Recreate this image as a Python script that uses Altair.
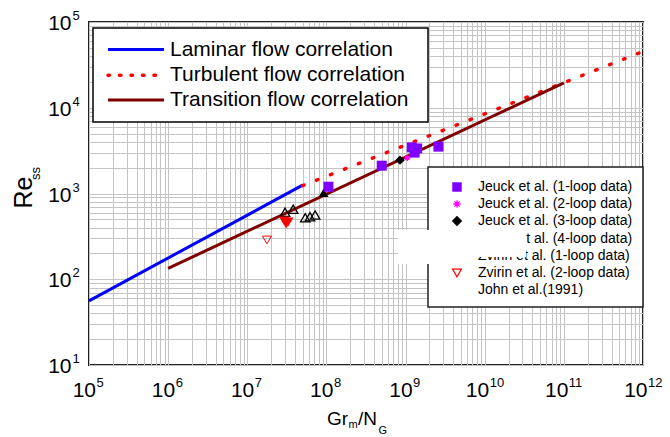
import altair as alt
import pandas as pd

# ---------------- data ----------------
laminar_x = [1e5, 5e7]
laminar_y = [56, 1250]
turbulent_x = [5e7, 1e12]
turbulent_y = [1235, 45300]
transition_x = [1e6, 1e11]
transition_y = [134, 19500]

jeuck1_x = [1.06e8, 5.0e8, 1.2e9, 1.4e9, 1.3e9, 2.6e9]
jeuck1_y = [1200, 2110, 3450, 3350, 3000, 3520]
jeuck2_x = [1.05e9]
jeuck2_y = [2600]
jeuck3_x = [8.5e8]
jeuck3_y = [2450]
jeuck4_x = [9.2e7]
jeuck4_y = [1020]
zvirin1_x = [3.0e7, 3.8e7, 5.4e7, 6.2e7, 7.2e7]
zvirin1_y = [604, 655, 522, 536, 561]
zvirin2f_x = [2.93e7, 3.29e7, 3.1e7]
zvirin2f_y = [478, 465, 441]
zvirin2o_x = [1.77e7]
zvirin2o_y = [287]

x_exponents = [5, 6, 7, 8, 9, 10, 11, 12]
y_exponents = [1, 2, 3, 4, 5]
tick_base = "10"
line_legend_labels = ["Laminar flow correlation", "Turbulent flow correlation",
                      "Transition flow correlation"]
point_legend_labels = ["Jeuck et al. (1-loop data)", "Jeuck et al. (2-loop data)",
                       "Jeuck et al. (3-loop data)", "Jeuck et al. (4-loop data)",
                       "Zvirin et al. (1-loop data)", "Zvirin et al. (2-loop data)",
                       "John et al.(1991)"]
x_title_parts = ["Gr", "m", "/N", "G"]
y_title_parts = ["Re", "ss"]

# ---------------- styling / layout ----------------
FONT = "Liberation Sans"
W, H = 554, 343
OX, OY = 89, 22  # plot origin in page pixels

BLUE = "#0000FF"
RED = "#FF0000"
DARKRED = "#800000"
PURPLE = "#8000FF"
MAGENTA = "#FF00FF"
GRID = "#c4c4c4"

x_ticks = [m * 10 ** e for e in range(5, 12) for m in range(1, 10)] + [10 ** 12]
y_ticks = [m * 10 ** e for e in range(1, 5) for m in range(1, 10)] + [10 ** 5]

xaxis = alt.Axis(values=x_ticks, grid=True, gridColor=GRID, gridWidth=1, ticks=False,
                 domain=False, labels=False, title=None)
yaxis = alt.Axis(values=y_ticks, grid=True, gridColor=GRID, gridWidth=1, ticks=False,
                 domain=False, labels=False, title=None)
xscale = alt.Scale(type="log", domain=[1e5, 1e12], nice=False)
yscale = alt.Scale(type="log", domain=[10, 1e5], nice=False)


def XE():
    return alt.X("x:Q", scale=xscale, axis=xaxis)


def YE():
    return alt.Y("y:Q", scale=yscale, axis=yaxis)


def df(xs, ys):
    return pd.DataFrame({"x": xs, "y": ys})


one = pd.DataFrame({"k": [0]})


def line(xs, ys, **kw):
    return alt.Chart(df(xs, ys)).mark_line(**kw).encode(x=XE(), y=YE())


def pts(xs, ys, **kw):
    return alt.Chart(df(xs, ys)).mark_point(opacity=1, **kw).encode(x=XE(), y=YE())


def text_at(txt, ax, ay, size, align="left", baseline="middle", angle=0):
    return alt.Chart(one).mark_text(text=txt, font=FONT, fontSize=size, color="black",
                                    align=align, baseline=baseline, angle=angle).encode(
        x=alt.value(ax - OX), y=alt.value(ay - OY))


def rect_at(x1, y1, x2, y2, **kw):
    return alt.Chart(one).mark_rect(**kw).encode(
        x=alt.value(x1 - OX), x2=alt.value(x2 - OX),
        y=alt.value(y1 - OY), y2=alt.value(y2 - OY))


def rule_at(x1, x2, y, **kw):
    return alt.Chart(one).mark_rule(**kw).encode(
        x=alt.value(x1 - OX), x2=alt.value(x2 - OX), y=alt.value(y - OY))


def sym_at(ax, ay, **kw):
    return alt.Chart(one).mark_point(opacity=1, **kw).encode(
        x=alt.value(ax - OX), y=alt.value(ay - OY))


ASTER = "M0,-1L0,1M-1,0L1,0M-0.7,-0.7L0.7,0.7M-0.7,0.7L0.7,-0.7"

layers = [
    line(laminar_x, laminar_y, color=BLUE, strokeWidth=3),
    line(turbulent_x, turbulent_y, color=RED, strokeWidth=3.5, strokeDash=[1.5, 13.5],
         strokeCap="round"),
    line(transition_x, transition_y, color=DARKRED, strokeWidth=3),
    pts(zvirin2o_x, zvirin2o_y, shape="triangle-down", filled=False, stroke=RED,
        strokeWidth=1, size=80),
    pts(zvirin1_x, zvirin1_y, shape="triangle-up", filled=False, stroke="black",
        strokeWidth=1.3, size=90),
    pts(zvirin2f_x, zvirin2f_y, shape="triangle-down", filled=True, color=RED, size=110),
    pts(jeuck4_x, jeuck4_y, shape="triangle-up", filled=True, color="black", size=100),
    pts(jeuck1_x, jeuck1_y, shape="square", filled=True, color=PURPLE, size=100),
    pts(jeuck3_x, jeuck3_y, shape="diamond", filled=True, color="black", size=90),
    pts(jeuck2_x, jeuck2_y, shape=ASTER, filled=False, stroke=MAGENTA, strokeWidth=1.2,
        size=40),
]

# ---- tick labels "10" with raised exponent, placed through the scales ----
for group, shift in (([e for e in x_exponents if e < 10], 7), ([e for e in x_exponents if e >= 10], 4.5)):
    tdf = pd.DataFrame({"x": [10 ** e for e in group], "exp": [str(e) for e in group]})
    layers.append(alt.Chart(tdf).mark_text(
        text=tick_base, font=FONT, fontSize=21, color="black", align="right",
        baseline="alphabetic", dx=shift).encode(x=XE(), y=alt.value(396.5 - OY)))
    layers.append(alt.Chart(tdf).mark_text(
        font=FONT, fontSize=13, color="black", align="left", baseline="alphabetic",
        dx=shift + 0.5).encode(x=XE(), y=alt.value(387 - OY), text="exp:N"))

ydf = pd.DataFrame({"y": [10 ** e for e in y_exponents], "exp": [str(e) for e in y_exponents]})
layers.append(alt.Chart(ydf).mark_text(
    text=tick_base, font=FONT, fontSize=21, color="black", align="right",
    baseline="alphabetic", dy=8).encode(y=YE(), x=alt.value(71.5 - OX)))
layers.append(alt.Chart(ydf).mark_text(
    font=FONT, fontSize=13, color="black", align="left", baseline="alphabetic",
    dy=-2).encode(y=YE(), x=alt.value(72.5 - OX), text="exp:N"))

# ---- upper-left legend (line correlations) ----
layers.append(rect_at(93, 28, 428, 122, fill="white", stroke="black", strokeWidth=1.5))
line_rows = [49.5, 75.3, 100]
line_styles = [dict(color=BLUE, strokeWidth=3),
               dict(color=RED, strokeWidth=3.5, strokeDash=[1.5, 10], strokeCap="round"),
               dict(color=DARKRED, strokeWidth=3)]
for lab, ry, st in zip(line_legend_labels, line_rows, line_styles):
    layers.append(rule_at(108, 164, ry, **st))
    layers.append(text_at(lab, 170, ry, 21))

# ---- lower-right legend (data sets) ----
layers.append(rect_at(428, 167, 643, 307, fill="white", stroke="#202020", strokeWidth=1.5))
pt_rows = [187, 204, 221, 239, 256, 273, 290]
layers.append(sym_at(457, pt_rows[0], shape="square", filled=True, color=PURPLE, size=90))
layers.append(sym_at(457, pt_rows[1], shape=ASTER, filled=False, stroke=MAGENTA,
                     strokeWidth=1.3, size=55))
layers.append(sym_at(457, pt_rows[2], shape="diamond", filled=True, color="black", size=110))
layers.append(sym_at(457, pt_rows[5], shape="triangle-down", filled=False, stroke=RED,
                     strokeWidth=1.2, size=80))
for lab, ry in zip(point_legend_labels, pt_rows):
    layers.append(text_at(lab, 478, ry, 14))

# white patch that hides part of the legend in the reference
layers.append(rect_at(398, 230, 430, 264, fill="white"))
layers.append(rect_at(430, 228, 526, 257, fill="white"))

# ---- axis titles ----
layers.append(text_at(x_title_parts[0], 327, 425, 19, baseline="alphabetic"))
layers.append(text_at(x_title_parts[1], 348.5, 428, 11, baseline="alphabetic"))
layers.append(text_at(x_title_parts[2], 358, 425, 19, baseline="alphabetic"))
layers.append(text_at(x_title_parts[3], 378.5, 434, 11, baseline="alphabetic"))
layers.append(text_at(y_title_parts[0], 32, 192.5, 25, align="center", baseline="alphabetic",
                      angle=270))
layers.append(text_at(y_title_parts[1], 40, 180, 13, align="left", baseline="alphabetic",
                      angle=270))

chart = alt.layer(*layers).properties(
    width=W, height=H,
    autosize=alt.AutoSizeParams(type="none"),
    padding={"left": OX, "top": OY, "right": 670 - OX - W, "bottom": 437 - OY - H},
    background="white",
).configure_view(stroke="#202020", strokeWidth=2)

chart.save("out.html", embed_options={"renderer": "svg", "actions": False})
